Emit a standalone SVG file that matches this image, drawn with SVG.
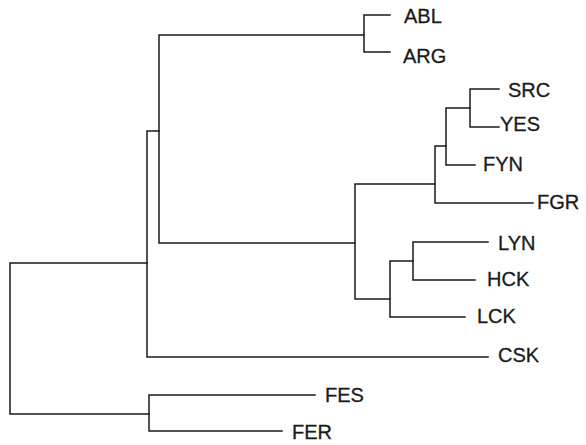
<svg xmlns="http://www.w3.org/2000/svg" width="586" height="445" viewBox="0 0 586 445">
<style>
.e{fill:none;stroke:#1a1a1a;stroke-width:1.5;stroke-linecap:square}
.t{font-family:"Liberation Sans",Arial,sans-serif;font-size:20px;fill:#1a1a1a;stroke:#1a1a1a;stroke-width:0.3}
</style>
<rect width="586" height="445" fill="#fff"/>
<g id="connectors" class="e">
<path d="M10,263 V414 M10,263 H147 M10,414 H149"/>
<path d="M147,131 V357 H488 M147,131 H159"/>
<path d="M159,35 V243 H355 M159,35 H364"/>
<path d="M364,15 V52 M364,15 H390 M364,52 H390"/>
<path d="M355,184 V299 M355,184 H435 M355,299 H390"/>
<path d="M435,146 V203 H533 M435,146 H446"/>
<path d="M446,108 V165 H475 M446,108 H470"/>
<path d="M470,89 V127 M470,89 H499 M470,127 H499"/>
<path d="M390,261 V317 H465 M390,261 H413"/>
<path d="M413,242 V280 H475 M413,242 H488"/>
<path d="M149,395 V431 H282 M149,395 H315"/>
</g>
<g id="ABL"><text class="t" x="404" y="23">ABL</text></g>
<g id="ARG"><text class="t" x="403" y="63">ARG</text></g>
<g id="SRC"><text class="t" x="508" y="97">SRC</text></g>
<g id="YES"><text class="t" x="500" y="131">YES</text></g>
<g id="FYN"><text class="t" x="483" y="171">FYN</text></g>
<g id="FGR"><text class="t" x="537" y="209">FGR</text></g>
<g id="LYN"><text class="t" x="498" y="250">LYN</text></g>
<g id="HCK"><text class="t" x="487" y="286">HCK</text></g>
<g id="LCK"><text class="t" x="477" y="323">LCK</text></g>
<g id="CSK"><text class="t" x="498" y="362">CSK</text></g>
<g id="FES"><text class="t" x="325" y="402">FES</text></g>
<g id="FER"><text class="t" x="292" y="439">FER</text></g>
</svg>
